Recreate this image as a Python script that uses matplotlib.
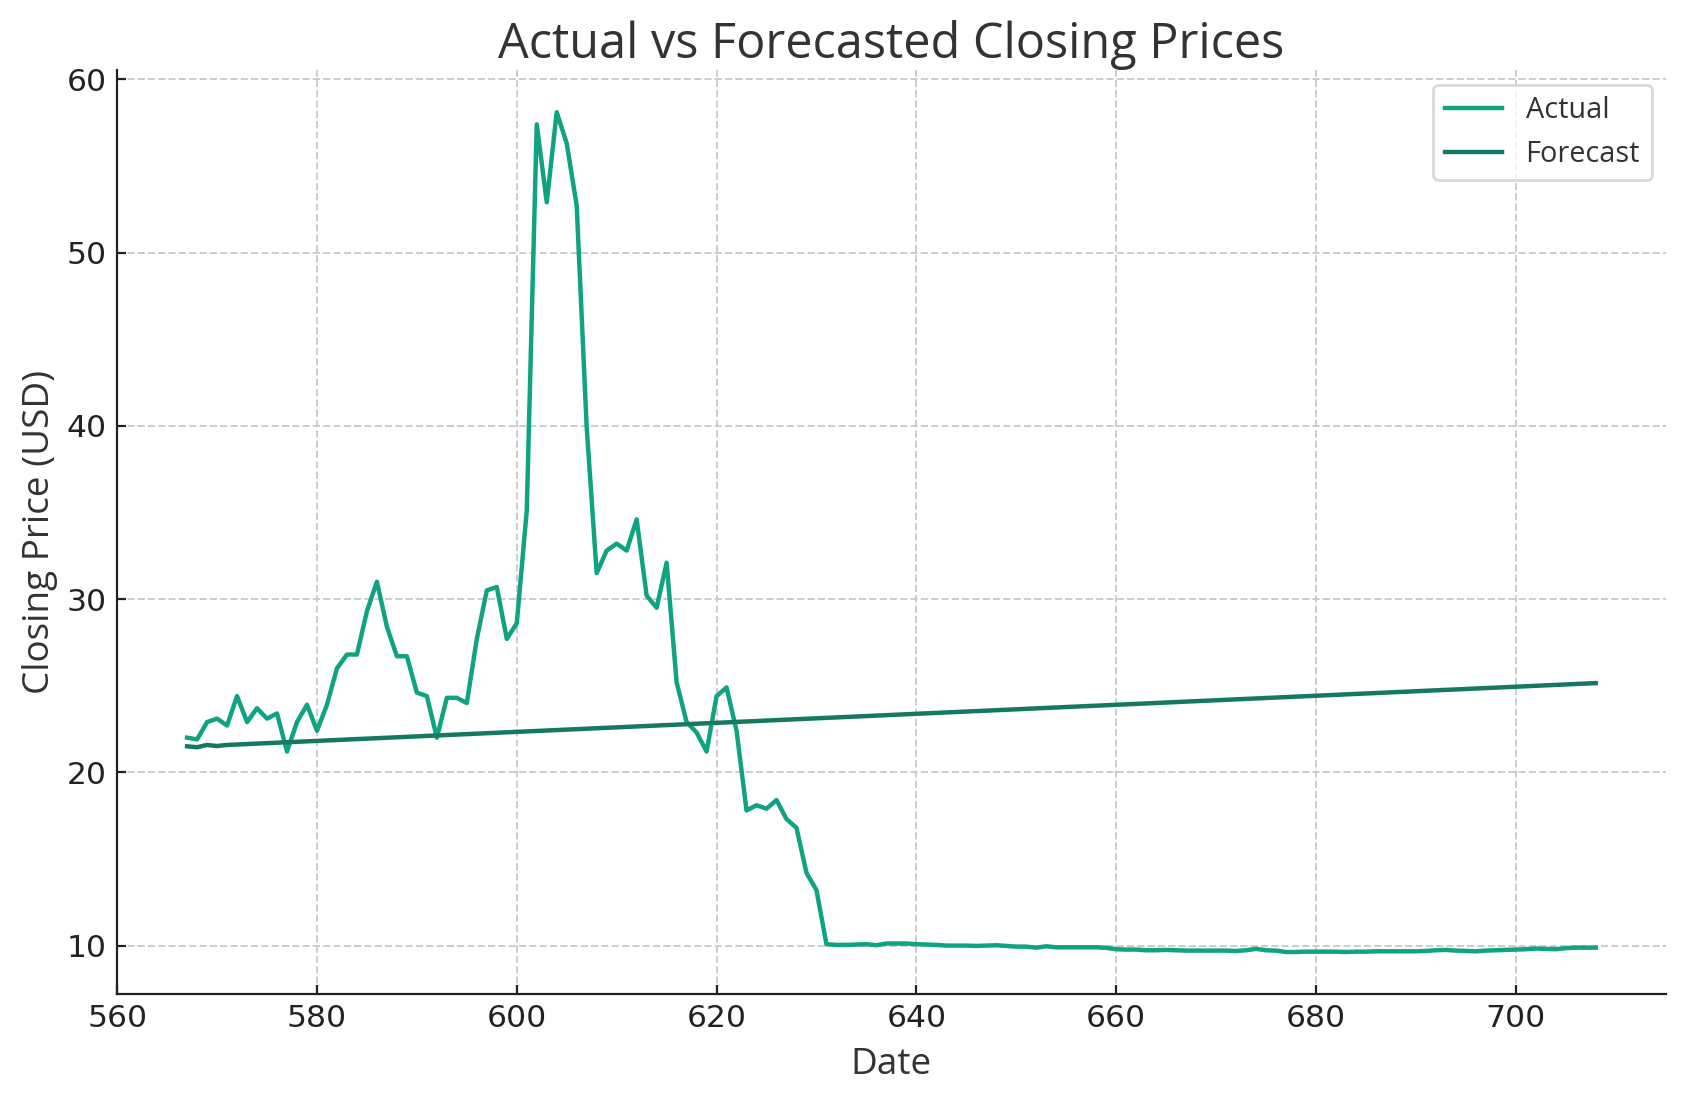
import numpy as np
import matplotlib
matplotlib.use("Agg")
import matplotlib.pyplot as plt

# day index of each observation
days = list(range(567, 709))

actual = [
    22.0, 21.9, 22.9, 23.1, 22.7, 24.4, 22.9, 23.7, 23.1, 23.4,   # 567-576
    21.2, 22.9, 23.9, 22.4, 23.9, 26.0, 26.8, 26.8, 29.3, 31.0,   # 577-586
    28.4, 26.7, 26.7, 24.6, 24.4, 22.0, 24.3, 24.3, 24.0, 27.7,   # 587-596
    30.5, 30.7, 27.7, 28.6, 35.1, 57.4, 52.9, 58.1, 56.3, 52.7,   # 597-606
    39.9, 31.5, 32.8, 33.2, 32.8, 34.6, 30.2, 29.5, 32.1, 25.2,   # 607-616
    22.9, 22.3, 21.2, 24.4, 24.9, 22.4, 17.8, 18.1, 17.9, 18.4,   # 617-626
    17.3, 16.8, 14.2, 13.2, 10.08, 10.04, 10.04, 10.06, 10.08, 10.02,  # 627-636
    10.12, 10.12, 10.12, 10.08, 10.06, 10.04, 10.0, 10.0, 10.0, 9.98,  # 637-646
    10.0, 10.02, 9.98, 9.94, 9.94, 9.88, 9.96, 9.9, 9.9, 9.9,     # 647-656
    9.9, 9.9, 9.87, 9.79, 9.77, 9.77, 9.73, 9.73, 9.75, 9.73,     # 657-666
    9.71, 9.71, 9.71, 9.71, 9.71, 9.69, 9.73, 9.81, 9.73, 9.71,   # 667-676
    9.63, 9.63, 9.65, 9.65, 9.65, 9.65, 9.63, 9.65, 9.65, 9.67,   # 677-686
    9.67, 9.67, 9.67, 9.67, 9.69, 9.73, 9.75, 9.71, 9.69, 9.67,   # 687-696
    9.71, 9.73, 9.75, 9.77, 9.79, 9.83, 9.81, 9.79, 9.85, 9.88,   # 697-706
    9.88, 9.88,                                                   # 707-708
]

# forecast is a straight trend after a small wiggle at the start
fc_days = [567, 568, 569, 570, 571, 708]
forecast = [21.50, 21.45, 21.58, 21.52, 21.58, 25.15]

c_actual = "#10A37F"
c_forecast = "#147960"

plt.rcParams["font.family"] = ["Open Sans", "DejaVu Sans"]

fig = plt.figure(figsize=(8.43, 5.505), dpi=200)
ax = fig.add_axes([0.0692, 0.0972, 0.919, 0.839])

ax.plot(days, actual, color=c_actual, lw=1.6, label="Actual")
ax.plot(fc_days, forecast, color=c_forecast, lw=1.6, label="Forecast")

ax.set_title("Actual vs Forecasted Closing Prices", fontsize=17.5,
             color="#333333", pad=4)
ax.set_xlabel("Date", fontsize=13.3, color="#333333", labelpad=5)
ax.set_ylabel("Closing Price (USD)", fontsize=13.3, color="#333333", labelpad=3)

ax.set_yticks([10, 20, 30, 40, 50, 60])
ax.tick_params(direction="in", length=3.3, width=0.8, labelsize=11.3,
               colors="#222222")
for lab in ax.get_xticklabels() + ax.get_yticklabels():
    lab.set_family("DejaVu Sans")

for s in ["top", "right"]:
    ax.spines[s].set_visible(False)
for s in ["left", "bottom"]:
    ax.spines[s].set_linewidth(0.8)
    ax.spines[s].set_color("#222222")

ax.grid(True, ls="--", color="#cccccc", lw=0.7)
ax.set_axisbelow(True)

leg = ax.legend(loc="upper right", fontsize=10.4, frameon=True, fancybox=True)
leg.get_frame().set_edgecolor("#d0d0d0")
for t in leg.get_texts():
    t.set_color("#333333")

fig.savefig("out.png", dpi=200)
